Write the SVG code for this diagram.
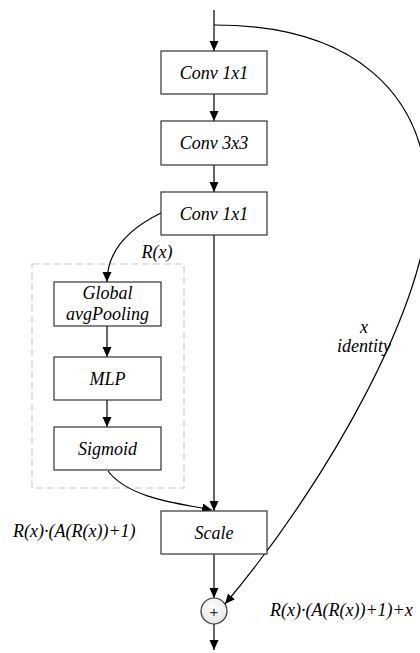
<svg xmlns="http://www.w3.org/2000/svg" width="420" height="653" viewBox="0 0 420 653">
<defs>
<marker id="ah" markerUnits="userSpaceOnUse" markerWidth="10" markerHeight="10" refX="10" refY="4.5" orient="auto"><path d="M0,0 L10,4.5 L0,9 z" fill="#000"/></marker>
<radialGradient id="cg" cx="0.45" cy="0.4" r="0.7"><stop offset="0" stop-color="#ffffff"/><stop offset="1" stop-color="#e2e2e2"/></radialGradient>
<style>
.box{fill:#fff;stroke:#333;stroke-width:1.2}
.ln{fill:none;stroke:#000;stroke-width:1.2}
</style>
</defs>
<rect x="32" y="264" width="152" height="224" fill="none" stroke="#c8c8c8" stroke-width="1.2" stroke-dasharray="7,4"/>
<g id="connectors">
<path class="ln" d="M214,10 L214,51" marker-end="url(#ah)"/>
<path class="ln" d="M214,94 L214,121" marker-end="url(#ah)"/>
<path class="ln" d="M214,165 L214,192" marker-end="url(#ah)"/>
<path class="ln" d="M214,235 L214,511" marker-end="url(#ah)"/>
<path class="ln" d="M214,554 L214,598" marker-end="url(#ah)"/>
<path class="ln" d="M214,624 L214,650" marker-end="url(#ah)"/>
<path class="ln" d="M107,326 L107,357" marker-end="url(#ah)"/>
<path class="ln" d="M107,400 L107,427" marker-end="url(#ah)"/>
<path class="ln" d="M161,213 C122,232 107,255 107,282" marker-end="url(#ah)"/>
<path class="ln" d="M108,471 C130,500 185,504 212,510" marker-end="url(#ah)"/>
<path class="ln" d="M214,25 C350,25 428,90 428,205 C428,300 330,480 225,604" marker-end="url(#ah)"/>
</g>
<g font-family="'Liberation Serif', 'DejaVu Serif', serif" font-style="italic" font-size="18" fill="#000" text-anchor="middle">
<g id="conv1"><rect class="box" x="161" y="51" width="106" height="43"/><text x="214" y="78.5">Conv 1x1</text></g>
<g id="conv3"><rect class="box" x="161" y="121" width="106" height="44"/><text x="214" y="149">Conv 3x3</text></g>
<g id="conv1b"><rect class="box" x="161" y="192" width="106" height="43"/><text x="214" y="219.5">Conv 1x1</text></g>
<g id="gap"><rect class="box" x="54" y="282" width="107" height="44"/><text x="107.5" y="299">Global</text><text x="107.5" y="320">avgPooling</text></g>
<g id="mlp"><rect class="box" x="54" y="357" width="107" height="43"/><text x="107.5" y="384.5">MLP</text></g>
<g id="sigmoid"><rect class="box" x="54" y="427" width="107" height="43"/><text x="107.5" y="454.5">Sigmoid</text></g>
<g id="scale"><rect class="box" x="161" y="511" width="106" height="43"/><text x="214" y="538.5">Scale</text></g>
<g id="labels">
<text x="157" y="258">R(x)</text>
<text x="364" y="333">x</text>
<text x="364" y="352">identity</text>
<text x="13" y="537" text-anchor="start">R(x)·(A(R(x))+1)</text>
<text x="270" y="616" text-anchor="start">R(x)·(A(R(x))+1)+x</text>
</g>
</g>
<g id="plus"><circle cx="214" cy="611" r="13" fill="url(#cg)" stroke="#333" stroke-width="1.2"/><text x="214" y="616.5" text-anchor="middle" font-family="Liberation Sans, Arial, sans-serif" font-size="15" fill="#333">+</text></g>
</svg>
